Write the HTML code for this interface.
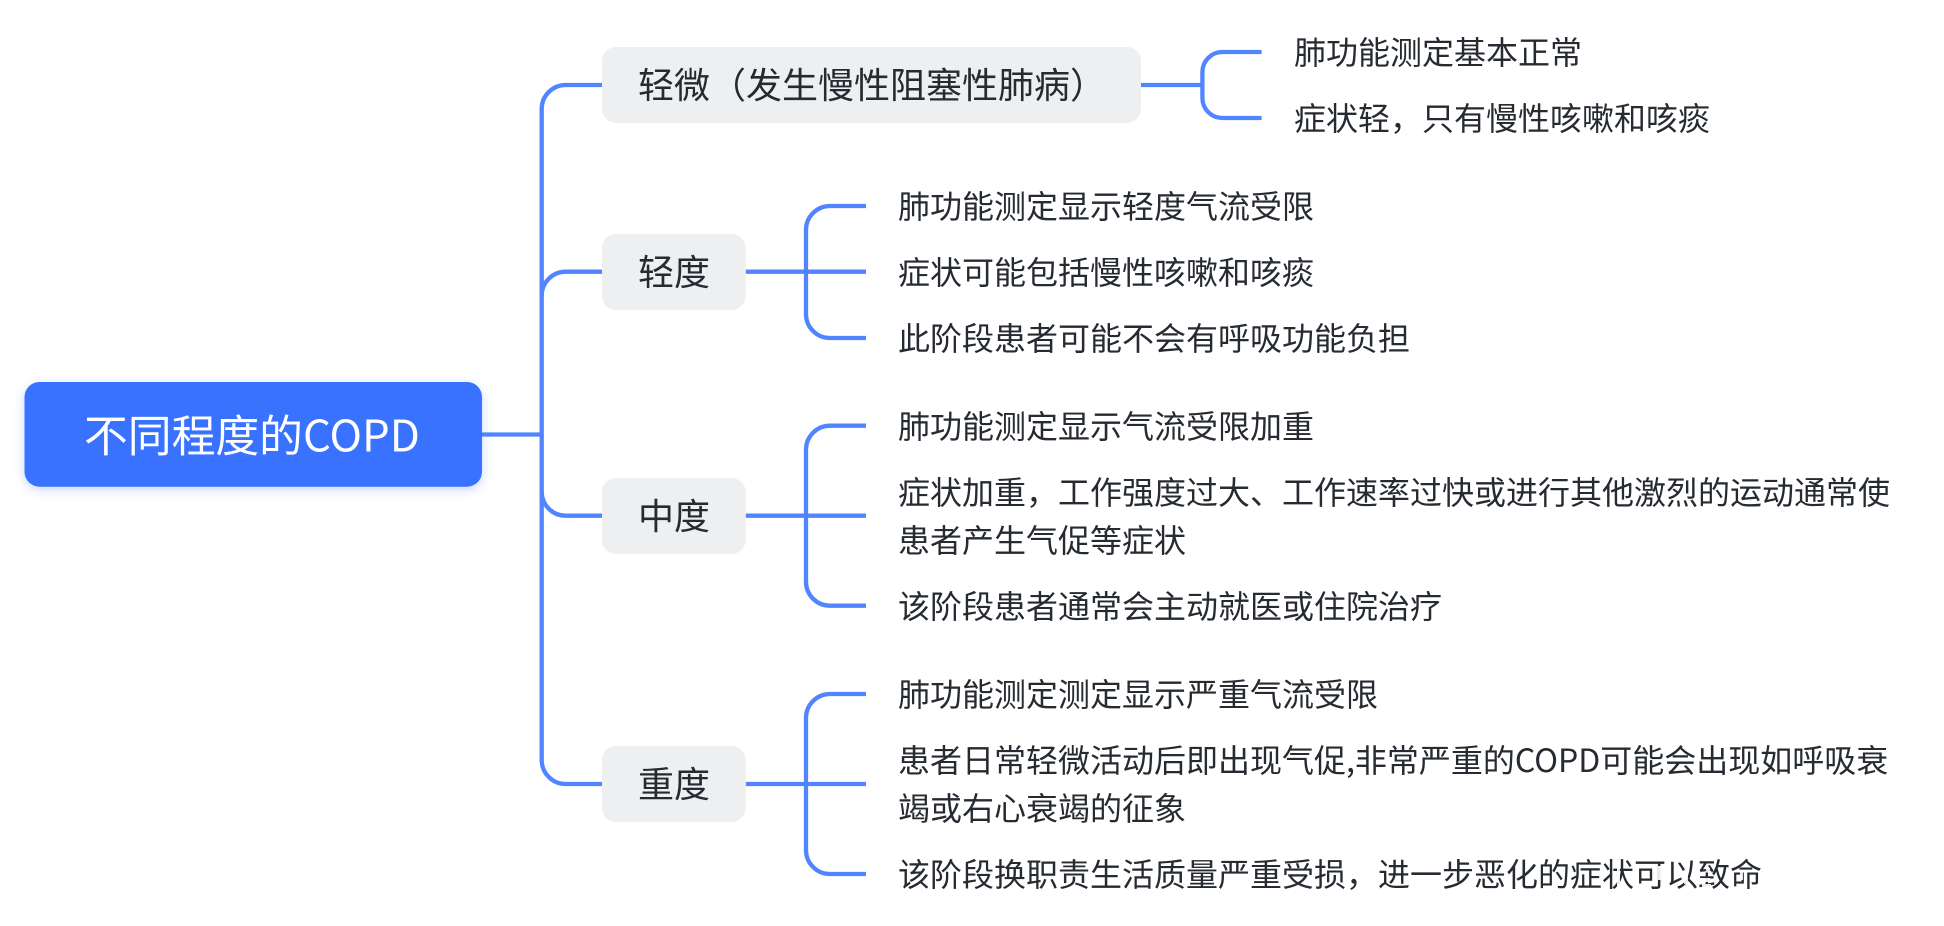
<!DOCTYPE html>
<html lang="zh-CN">
<head>
<meta charset="utf-8">
<title>不同程度的COPD</title>
<style>
html,body{margin:0;padding:0;background:#fff;width:1944px;height:926px;overflow:hidden}
svg{display:block}
text{font-family:"Liberation Sans","Noto Sans CJK SC",sans-serif;fill:#262a31}
.cjk{font-family:"Noto Sans CJK SC",sans-serif}
.t{font-size:32px}
.n{font-size:36px}
.m{font-size:43.8px;fill:#fff}
path.l{fill:none;stroke:#5085ff;stroke-width:4.3}
</style>
</head>
<body>
<svg width="1944" height="926" viewBox="0 0 1944 926" xmlns="http://www.w3.org/2000/svg">
<defs>
<filter id="s" x="-10%" y="-30%" width="120%" height="160%">
<feDropShadow dx="0" dy="3" stdDeviation="5" flood-color="#3872ff" flood-opacity="0.28"/>
</filter>
</defs>

<!-- trunk -->
<path class="l" d="M482 434.5H541.7"/>
<path class="l" d="M602 85H565.7A24 24 0 0 0 541.7 109V760A24 24 0 0 0 565.7 784H602"/>
<path class="l" d="M602 271.7H565.7A24 24 0 0 0 541.7 295.7"/>
<path class="l" d="M602 515.7H565.7A24 24 0 0 1 541.7 491.7"/>

<!-- level 1 connectors -->
<path class="l" d="M1141 85H1202.4"/>
<path class="l" d="M1261.6 52H1222.4A20 20 0 0 0 1202.4 72V98A20 20 0 0 0 1222.4 118H1261.6"/>

<path class="l" d="M745.7 271.7H866"/>
<path class="l" d="M866 206H830A24 24 0 0 0 806 230V314A24 24 0 0 0 830 338H866"/>

<path class="l" d="M745.7 515.7H866"/>
<path class="l" d="M866 425.7H830A24 24 0 0 0 806 449.7V581.7A24 24 0 0 0 830 605.7H866"/>

<path class="l" d="M745.7 784H866"/>
<path class="l" d="M866 694H830A24 24 0 0 0 806 718V850A24 24 0 0 0 830 874H866"/>

<!-- root -->
<rect x="24.5" y="382" width="457.5" height="104.7" rx="15" ry="15" fill="#3872ff" filter="url(#s)"/>
<text class="m cjk" x="84" y="451.5">不同程度的COPD</text>

<!-- level 1 nodes -->
<rect x="602" y="47" width="539" height="76" rx="14" fill="#eeeff1"/>
<text class="n cjk" x="638" y="98">轻微（发生慢性阻塞性肺病）</text>

<rect x="602" y="234" width="143.7" height="76" rx="14" fill="#eeeff1"/>
<text class="n cjk" x="638" y="285">轻度</text>

<rect x="602" y="478" width="143.7" height="76" rx="14" fill="#eeeff1"/>
<text class="n cjk" x="638" y="529">中度</text>

<rect x="602" y="746" width="143.7" height="76" rx="14" fill="#eeeff1"/>
<text class="n cjk" x="638" y="797">重度</text>

<!-- leaves -->
<text class="t cjk" x="1294" y="64">肺功能测定基本正常</text>
<text class="t cjk" x="1294" y="130">症状轻，只有慢性咳嗽和咳痰</text>

<text class="t cjk" x="898" y="218">肺功能测定显示轻度气流受限</text>
<text class="t cjk" x="898" y="284">症状可能包括慢性咳嗽和咳痰</text>
<text class="t cjk" x="898" y="350">此阶段患者可能不会有呼吸功能负担</text>

<text class="t cjk" x="898" y="438">肺功能测定显示气流受限加重</text>
<text class="t cjk" x="898" y="504">症状加重，工作强度过大、工作速率过快或进行其他激烈的运动通常使</text>
<text class="t cjk" x="898" y="552">患者产生气促等症状</text>
<text class="t cjk" x="898" y="618">该阶段患者通常会主动就医或住院治疗</text>

<text class="t cjk" x="898" y="706">肺功能测定测定显示严重气流受限</text>
<text class="t cjk" x="898" y="772">患者日常轻微活动后即出现气促,非常严重的COPD可能会出现如呼吸衰</text>
<text class="t cjk" x="898" y="820">竭或右心衰竭的征象</text>
<text class="t cjk" x="898" y="886">该阶段换职责生活质量严重受损，进一步恶化的症状可以致命</text>

<!-- watermark erasure artefacts over the last words -->
<g fill="#fff" fill-opacity="0.9">
<rect x="1617" y="858" width="3" height="28"/>
<rect x="1658" y="866" width="3" height="14"/>
<rect x="1674" y="860" width="4" height="14"/>
<rect x="1684" y="876" width="4" height="8"/>
<rect x="1698" y="878" width="12" height="4"/>
<rect x="1702" y="884" width="9" height="3"/>
<rect x="1706" y="868" width="4" height="3"/>
<rect x="1740" y="872" width="3" height="8"/>
</g>
</svg>
</body>
</html>
